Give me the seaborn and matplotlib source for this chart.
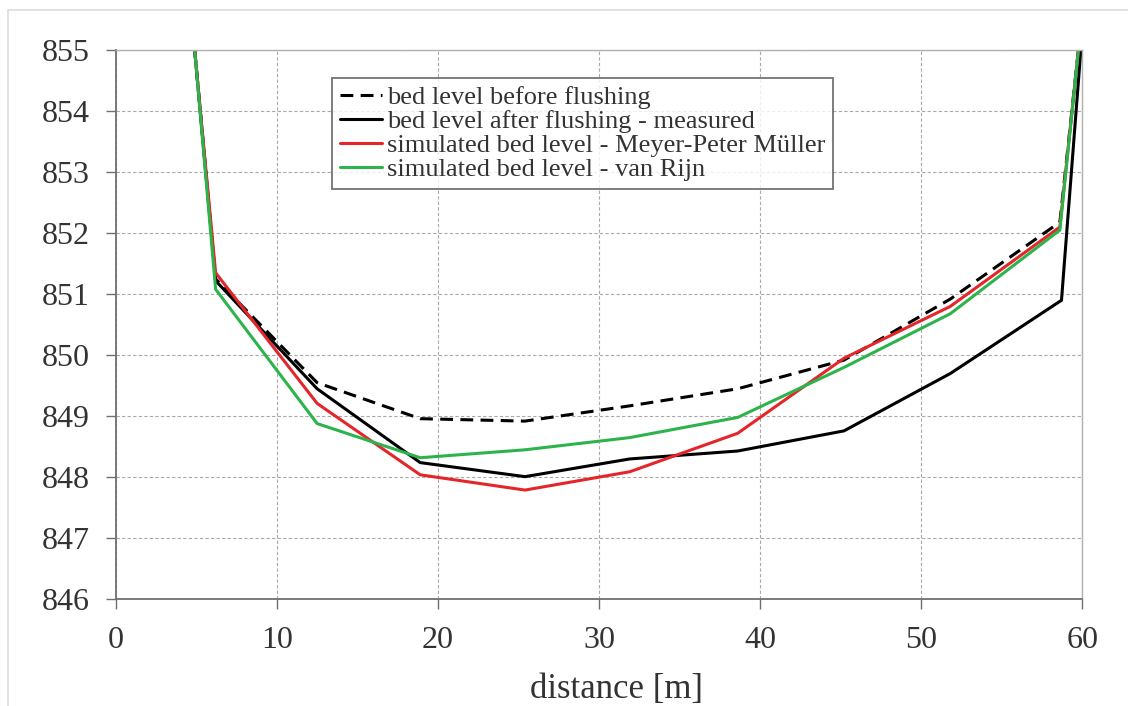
import pandas as pd
import seaborn as sns
import matplotlib.pyplot as plt
from matplotlib.patches import Rectangle

# ===============================
# 1. DATA
# ===============================
x_common = [4.9, 6.2, 12.5, 18.9, 25.4, 31.9, 38.6, 45.2, 51.8, 58.6, 59.75]
x_measured = [4.9, 6.2, 12.5, 18.9, 25.4, 31.9, 38.6, 45.2, 51.8, 58.7, 59.9]

before = [855.0, 851.25, 849.55, 848.96, 848.92, 849.17, 849.45, 849.92, 850.92, 852.18, 855.0]
measured = [855.0, 851.22, 849.45, 848.24, 848.01, 848.30, 848.43, 848.76, 849.70, 850.90, 855.0]
mpm = [855.0, 851.35, 849.21, 848.04, 847.79, 848.09, 848.72, 849.95, 850.80, 852.10, 855.0]
van_rijn = [855.0, 851.08, 848.88, 848.32, 848.45, 848.65, 848.98, 849.80, 850.68, 852.05, 855.0]

names = [
    "bed level before flushing",
    "bed level after flushing - measured",
    "simulated bed level - Meyer-Peter Müller",
    "simulated bed level - van Rijn",
]
colors = ["black", "black", "#e4262b", "#2db34c"]

x_ticks = [0, 10, 20, 30, 40, 50, 60]
y_ticks = [846, 847, 848, 849, 850, 851, 852, 853, 854, 855]

frames = []
for name, xs, ys in zip(names, [x_common, x_measured, x_common, x_common],
                        [before, measured, mpm, van_rijn]):
    frames.append(pd.DataFrame({"distance": xs, "level": ys, "series": name}))
df = pd.concat(frames, ignore_index=True)

# ===============================
# 2. FIGURE
# ===============================
sns.set_theme(style="white")
plt.rcParams["font.family"] = ["Liberation Serif", "DejaVu Serif"]

fig = plt.figure(figsize=(11.28, 7.06), dpi=100)
ax = fig.add_axes([0.1026, 0.1511, 0.857, 0.778])

# light frame around the picture
fig.add_artist(Rectangle((0.007, -0.05), 1.2, 0.036 + 1.0, transform=fig.transFigure,
                         fill=False, edgecolor="#dcdcdc", linewidth=1.2))

sns.lineplot(data=df, x="distance", y="level", hue="series", style="series",
             hue_order=names, style_order=names,
             palette=dict(zip(names, colors)),
             dashes={names[0]: (4.2, 2.4), names[1]: "", names[2]: "", names[3]: ""},
             estimator=None, sort=False, linewidth=2.2, ax=ax)

ax.set_xlim(0, 60)
ax.set_ylim(846, 855)
ax.set_xticks(x_ticks)
ax.set_yticks(y_ticks)
ax.set_xticklabels([str(t) for t in x_ticks])
ax.set_yticklabels([str(t) for t in y_ticks])

ax.grid(True, color="#a8a8a8", linestyle=(0, (3, 2)), linewidth=0.8)
ax.set_axisbelow(True)

for side in ["left", "bottom"]:
    ax.spines[side].set_color("#707070")
    ax.spines[side].set_linewidth(1.3)
for side in ["top", "right"]:
    ax.spines[side].set_color("#b0b0b0")
    ax.spines[side].set_linewidth(1.0)

ax.tick_params(axis="both", which="major", direction="out", length=7, width=1.0,
               color="#707070", labelsize=23, labelcolor="#333333", pad=12,
               bottom=True, left=True)

ax.set_xlabel("distance [m]", fontsize=25, color="#333333")
ax.set_ylabel("")
ax.xaxis.set_label_coords(0.518, -0.135)

# ===============================
# 3. LEGEND
# ===============================
handles, labels = ax.get_legend_handles_labels()
leg = ax.legend(handles, labels, loc="upper left", bbox_to_anchor=(0.2235, 0.95),
                borderaxespad=0, fontsize=19, frameon=True, fancybox=False,
                handlelength=1.6, handletextpad=0.2, labelspacing=0.02,
                borderpad=0.3)
leg.get_frame().set_edgecolor("#505050")
leg.get_frame().set_linewidth(1.3)
for t in leg.get_texts():
    t.set_color("#333333")

fig.savefig("out.png", dpi=100)
